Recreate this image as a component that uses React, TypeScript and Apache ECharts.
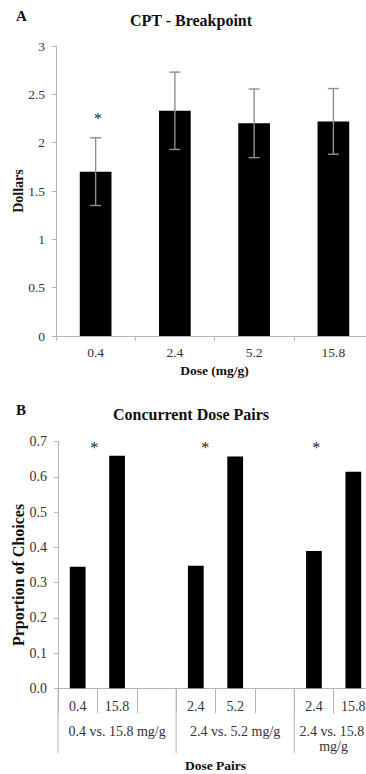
import React, { useEffect, useRef } from 'react';
import * as echarts from 'echarts';

// ---- Panel A: CPT - Breakpoint ----
const doseLabels = ['0.4', '2.4', '5.2', '15.8'];
const breakpointMeans = [1.7, 2.33, 2.2, 2.22];
const breakpointErrors = [0.35, 0.4, 0.355, 0.34];
// [category index, fraction of a band to the right, value]
const breakpointStars = [[0, 0.03, 2.25]];

// ---- Panel B: Concurrent Dose Pairs ----
const pairSlotLabels = ['0.4', '15.8', '', '2.4', '5.2', '', '2.4', '15.8'];
const pairProportions = [0.345, 0.66, null, 0.348, 0.658, null, 0.39, 0.615];
const pairGroupLabels = ['0.4 vs. 15.8 mg/g', '2.4 vs. 5.2 mg/g', '2.4 vs. 15.8 mg/g'];
const pairGroupSizes = [3, 3, 2];
const pairStars = [[0, 0.42, 0.683], [3, 0.24, 0.683], [6, 0.06, 0.683]];

const SERIF = 'Liberation Serif';
const AXIS_GREY = '#b5b5b5';
const LABEL = '#333333';

export default function App() {
  const ref = useRef<HTMLDivElement>(null);

  useEffect(() => {
    if (!ref.current) return;
    const chart = echarts.init(ref.current, null, { renderer: 'svg' });

    const groupStarts: number[] = [];
    let acc = 0;
    pairGroupSizes.forEach((s) => {
      groupStarts.push(acc);
      acc += s;
    });

    const errData = breakpointMeans.map((m, i) => [i, m - breakpointErrors[i], m + breakpointErrors[i]]);
    const groupData = groupStarts.map((s, i) => [s, 0, pairGroupSizes[i]]);

    const starRender = (params: any, api: any) => {
      const p = api.coord([api.value(0), api.value(2)]);
      const band = api.size([1, 0])[0];
      return {
        type: 'text',
        x: p[0] + api.value(1) * band,
        y: p[1],
        style: {
          text: '*',
          fontFamily: SERIF,
          fontSize: 16,
          fill: '#222222',
          align: 'center',
          verticalAlign: 'middle',
        },
      };
    };

    const option: any = {
      animation: false,
      backgroundColor: '#ffffff',
      textStyle: { fontFamily: SERIF },
      grid: [
        { left: 56, top: 46, width: 317, height: 290, outerBoundsMode: 'none', containLabel: false },
        { left: 58, top: 441.7, width: 315, height: 246.6, outerBoundsMode: 'none', containLabel: false },
      ],
      graphic: [
        {
          type: 'text', x: 16, y: 16,
          style: { text: 'A', fontFamily: SERIF, fontWeight: 'bold', fontSize: 15, fill: '#111', verticalAlign: 'middle' },
        },
        {
          type: 'text', x: 191, y: 20,
          style: { text: 'CPT - Breakpoint', fontFamily: SERIF, fontWeight: 'bold', fontSize: 16, fill: '#111', align: 'center', verticalAlign: 'middle' },
        },
        {
          type: 'text', x: 16, y: 409.5,
          style: { text: 'B', fontFamily: SERIF, fontWeight: 'bold', fontSize: 15, fill: '#111', verticalAlign: 'middle' },
        },
        {
          type: 'text', x: 191, y: 414,
          style: { text: 'Concurrent Dose Pairs', fontFamily: SERIF, fontWeight: 'bold', fontSize: 16, fill: '#111', align: 'center', verticalAlign: 'middle' },
        },
      ],
      xAxis: [
        {
          type: 'category', gridIndex: 0, data: doseLabels,
          axisLine: { lineStyle: { color: AXIS_GREY, width: 1 } },
          axisTick: { show: true, length: 5, lineStyle: { color: AXIS_GREY } },
          axisLabel: { margin: 9, fontSize: 13.5, color: LABEL, fontFamily: SERIF },
          name: 'Dose (mg/g)', nameLocation: 'middle', nameGap: 27, nameMoveOverlap: false,
          nameTextStyle: { fontWeight: 'bold', fontSize: 13.5, color: '#111', fontFamily: SERIF },
        },
        {
          type: 'category', gridIndex: 1, data: pairSlotLabels,
          axisLine: { lineStyle: { color: AXIS_GREY, width: 1 } },
          axisTick: { show: true, length: 25, lineStyle: { color: AXIS_GREY } },
          axisLabel: { margin: 11, fontSize: 14, color: LABEL, fontFamily: SERIF, interval: 0 },
          name: 'Dose Pairs', nameLocation: 'middle', nameGap: 70, nameMoveOverlap: false,
          nameTextStyle: { fontWeight: 'bold', fontSize: 13.5, color: '#111', fontFamily: SERIF },
        },
      ],
      yAxis: [
        {
          type: 'value', gridIndex: 0, min: 0, max: 3, interval: 0.5,
          splitLine: { show: false },
          axisLine: { show: true, lineStyle: { color: AXIS_GREY, width: 1 } },
          axisTick: { show: true, length: 4, lineStyle: { color: AXIS_GREY } },
          axisLabel: { margin: 11, fontSize: 13.5, color: LABEL, fontFamily: SERIF },
          name: 'Dollars', nameLocation: 'middle', nameGap: 31, nameMoveOverlap: false,
          nameTextStyle: { fontWeight: 'bold', fontSize: 14, color: '#111', fontFamily: SERIF },
        },
        {
          type: 'value', gridIndex: 1, min: 0, max: 0.7, interval: 0.1,
          splitLine: { show: false },
          axisLine: { show: true, lineStyle: { color: AXIS_GREY, width: 1 } },
          axisTick: { show: true, length: 4, lineStyle: { color: AXIS_GREY } },
          axisLabel: { margin: 11, fontSize: 14, color: LABEL, fontFamily: SERIF, formatter: (v: number) => v.toFixed(1) },
          name: 'Prportion of Choices', nameLocation: 'middle', nameGap: 32, nameMoveOverlap: false,
          nameTextStyle: { fontWeight: 'bold', fontSize: 16, color: '#111', fontFamily: SERIF, padding: [0, 20, 0, 0] },
        },
      ],
      series: [
        {
          type: 'bar', xAxisIndex: 0, yAxisIndex: 0, data: breakpointMeans,
          barWidth: '40%', itemStyle: { color: '#000000' },
        },
        {
          type: 'custom', xAxisIndex: 0, yAxisIndex: 0, data: errData,
          encode: { x: 0, y: [1, 2] }, clip: false, z: 5,
          itemStyle: { color: '#8f8f8f' },
          renderItem: (params: any, api: any) => {
            const x = api.value(0);
            const lo = api.coord([x, api.value(1)]);
            const hi = api.coord([x, api.value(2)]);
            const hw = 5.5;
            const st = { stroke: '#8f8f8f', lineWidth: 1.4 };
            return {
              type: 'group',
              children: [
                { type: 'line', shape: { x1: hi[0], y1: hi[1], x2: lo[0], y2: lo[1] }, style: st },
                { type: 'line', shape: { x1: hi[0] - hw, y1: hi[1], x2: hi[0] + hw, y2: hi[1] }, style: st },
                { type: 'line', shape: { x1: lo[0] - hw, y1: lo[1], x2: lo[0] + hw, y2: lo[1] }, style: st },
              ],
            };
          },
        },
        {
          type: 'custom', xAxisIndex: 0, yAxisIndex: 0, data: breakpointStars,
          encode: { x: 0, y: 2 }, clip: false, z: 5, itemStyle: { color: '#222222' }, renderItem: starRender,
        },
        {
          type: 'bar', xAxisIndex: 1, yAxisIndex: 1, data: pairProportions,
          barWidth: '40%', itemStyle: { color: '#000000' },
        },
        {
          type: 'custom', xAxisIndex: 1, yAxisIndex: 1, data: pairStars,
          encode: { x: 0, y: 2 }, clip: false, z: 5, itemStyle: { color: '#222222' }, renderItem: starRender,
        },
        {
          type: 'custom', xAxisIndex: 1, yAxisIndex: 1, data: groupData,
          encode: { x: 0, y: 1 }, clip: false, z: 5, itemStyle: { color: LABEL },
          renderItem: (params: any, api: any) => {
            const start = api.value(0);
            const count = api.value(2);
            const band = api.size([1, 0])[0];
            const p = api.coord([start, 0]);
            const left = p[0] - band / 2;
            const right = left + count * band;
            const y0 = p[1];
            const st = { stroke: AXIS_GREY, lineWidth: 1 };
            const children: any[] = [
              { type: 'line', shape: { x1: left, y1: y0, x2: left, y2: y0 + 65 }, style: st },
              {
                type: 'text', x: (left + right) / 2, y: y0 + 36,
                style: {
                  text: pairGroupLabels[params.dataIndex],
                  fontFamily: SERIF, fontSize: 14, fill: LABEL,
                  align: 'center', verticalAlign: 'top',
                  width: right - left - 4, overflow: 'break', lineHeight: 15,
                },
              },
            ];
            if (params.dataIndex === pairGroupSizes.length - 1) {
              children.push({ type: 'line', shape: { x1: right, y1: y0, x2: right, y2: y0 + 65 }, style: st });
            }
            return { type: 'group', children };
          },
        },
      ],
    };

    chart.setOption(option);
    return () => chart.dispose();
  }, []);

  return (
    <div
      ref={ref}
      style={{ position: 'absolute', left: 0, top: 0, width: 366, height: 774, background: '#fff' }}
    />
  );
}
